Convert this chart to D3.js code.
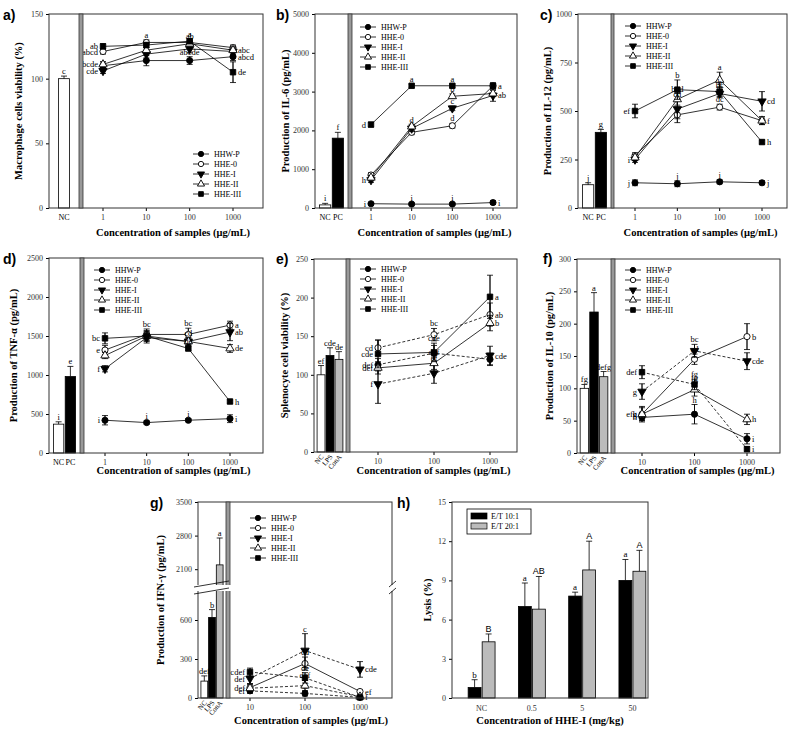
<!DOCTYPE html>
<html><head><meta charset="utf-8">
<script src="https://cdn.jsdelivr.net/npm/d3@7"></script>
<style>body{margin:0;background:#fff}svg{font-family:"Liberation Serif",serif}</style>
</head><body><svg id="fig" width="800" height="739"></svg>
<script>
// ---- data ----
var seriesNames = ["HHW-P","HHE-0","HHE-I","HHE-II","HHE-III"];
var conc4 = ["1","10","100","1000"];
var conc3 = ["10","100","1000"];

var aBarCats = ["NC"], aBarVals = [100], aBarErr = [2], aBarLet = ["c"];
var aVals = [[110,114,114,117],[121,128,128,124],[106,119,123,121],[111,122,127,122],[125,126,129,105]];
var aErr  = [[3,4,3,3],[2,2,2,2],[2,3,3,3],[2,2,2,3],[2,2,2,8]];
var aLet  = [["","","abcde","abcd"],["abcd","a","",""],["cde","","",""],["bcde","","ab","abc"],["ab","","a","de"]];

var bBarCats = ["NC","PC"], bBarVals = [80,1800], bBarErr = [40,150], bBarLet = ["i","f"];
var bVals = [[110,100,100,140],[850,1950,2120,3150],[720,2050,2570,2900],[780,2100,2880,2950],[2150,3150,3150,3150]];
var bErr  = [[30,30,30,50],[60,60,60,80],[60,80,60,150],[60,60,60,80],[60,40,40,50]];
var bLet  = [["i","i","i","i"],["","c","d",""],["h","d","c","ab"],["","","b",""],["d","a","a","a"]];

var cBarCats = ["NC","PC"], cBarVals = [120,390], cBarErr = [10,15], cBarLet = ["j","g"];
var cVals = [[130,125,135,130],[270,480,520,450],[250,510,590,550],[260,560,660,450],[500,610,600,340]];
var cErr  = [[15,15,10,10],[15,40,15,20],[15,50,20,50],[15,30,40,20],[35,50,25,10]];
var cLet  = [["j","j","j","j"],["","","dc","f"],["i","cd","bc","cd"],["","bcd","a",""],["ef","b","b","h"]];

var dBarCats = ["NC","PC"], dBarVals = [370,980], dBarErr = [30,130], dBarLet = ["i","e"];
var dVals = [[420,390,420,440],[1320,1520,1520,1640],[1080,1480,1430,1550],[1250,1500,1430,1340],[1470,1500,1340,660]];
var dErr  = [[60,20,20,50],[60,70,80,50],[40,70,50,110],[40,60,40,50],[70,70,30,20]];
var dLet  = [["i","i","i","i"],["e","bc","bc","a"],["f","","","ab"],["","","cd","de"],["bc","","de","h"]];

var eBarCats = ["NC","LPS","ConA"], eBarVals = [100,125,120], eBarErr = [12,10,10], eBarLet = ["ef","cde","de"];
var eVals = [[113,128,120],[135,152,178],[88,102,125],[109,115,167],[127,129,201]];
var eErr  = [[8,10,8],[10,8,15],[25,13,12],[8,8,10],[18,12,28]];
var eLet  = [["def","",""],["cd","bc","ab"],["f","ef","cde"],["def","def","b"],["cde","cde","a"]];

var fBarCats = ["NC","LPS","ConA"], fBarVals = [100,218,118], fBarErr = [6,30,8], fBarLet = ["fg","a","defg"];
var fVals = [[55,60,22],[60,145,180],[95,158,142],[60,98,52],[125,106,6]];
var fErr  = [[5,15,8],[10,8,20],[12,10,13],[12,10,8],[10,8,4]];
var fLet  = [["h","h","i"],["h","cd","b"],["g","bc","cde"],["efg","fg","h"],["def","fg","i"]];

var gBarCats = ["NC","LPS","ConA"], gBarVals = [130,620,2190], gBarErr = [40,60,560], gBarLet = ["def","b","a"];
var gVals = [[55,35,5],[80,265,50],[150,365,220],[75,95,10],[200,155,5]];
var gErr  = [[20,20,5],[30,50,10],[40,130,60],[30,40,10],[30,40,5]];
var gLet  = [["ef","ef","f"],["def","cd","ef"],["def","c","cde"],["","def",""],["cdef","de",""]];

var hCats = ["NC","0.5","5","50"];
var hSeries = ["E/T 10:1","E/T 20:1"];
var hVals = [[0.8,7.0,7.8,9.0],[4.3,6.8,9.8,9.7]];
var hErr  = [[0.6,1.8,0.3,1.6],[0.6,2.5,2.2,1.6]];
var hLet  = [["b","a","a","a"],["B","AB","A","A"]];

// ---- drawing ----
var svg = d3.select("#fig");
var barFill = {NC:"#fff",PC:"#000",LPS:"#000",ConA:"#bbb"};
var xTitle = "Concentration of samples (\u03bcg/mL)";

var drawSymbol = function(g,i,x,y,size)
{
    var types = [d3.symbolCircle,d3.symbolCircle,d3.symbolTriangle,d3.symbolTriangle,d3.symbolSquare];
    var fills = ["#000","#fff","#000","#fff","#000"];
    g.append("path")
        .attr("d",d3.symbol().type(types[i]).size(size || 30)())
        .attr("transform","translate("+x+","+y+")"+(i==2?" rotate(180)":""))
        .attr("fill",fills[i]).attr("stroke","#000").attr("stroke-width",0.9);
}

var errBar = function(g,x,ya,yb,w)
{
    g.append("line").attr("x1",x).attr("x2",x).attr("y1",ya).attr("y2",yb).attr("stroke","#000").attr("stroke-width",0.8);
    g.append("line").attr("x1",x-w).attr("x2",x+w).attr("y1",yb).attr("y2",yb).attr("stroke","#000").attr("stroke-width",0.8);
}

var label = function(g,x,y,t,size,anchor)
{
    return g.append("text").attr("x",x).attr("y",y).attr("text-anchor",anchor||"middle")
        .attr("font-size",size).attr("fill","#000").text(t);
}

var drawPanel = function(p)
{
    var g = svg.append("g");
    var y = d3.scaleLinear().domain(p.yDomain).range(p.yRange);
    var yAxis = d3.axisLeft(y).tickValues(p.yTicks).tickSize(3).tickFormat(d3.format("d"));
    var ax = g.append("g").attr("transform","translate("+p.x0+",0)").call(yAxis);
    ax.select(".domain").remove();
    ax.selectAll("text").attr("font-size",8).attr("fill","#333").attr("font-family","Liberation Serif");

    // bars on the left box
    var xb = d3.scaleBand().domain(p.barCats).range([p.x0+p.bp, p.xd-p.bp]).padding(0.12);
    p.barCats.forEach(function(c,i){
        var v = p.barVals[i];
        g.append("rect").attr("x",xb(c)).attr("width",xb.bandwidth())
            .attr("y",y(v)).attr("height",p.y1-y(v))
            .attr("fill",barFill[c]).attr("stroke","#000").attr("stroke-width",0.8);
        errBar(g,xb(c)+xb.bandwidth()/2,y(v),y(v+p.barErr[i]),3);
        label(g,xb(c)+xb.bandwidth()/2,y(v+p.barErr[i])-2,p.barLet[i],8.5);
        var lx = xb(c)+xb.bandwidth()/2;
        if (p.rotLabels) {
            g.append("text").attr("transform","translate("+(lx+3)+","+(p.y1+5)+") rotate(-50)")
                .attr("text-anchor","end").attr("font-size",7).attr("fill","#000").text(c);
        } else {
            label(g,lx,p.y1+12,c,8);
        }
    });

    // series on main box
    var xs = d3.scalePoint().domain(p.conc).range(p.pts);
    p.conc.forEach(function(c){
        label(g,xs(c),p.y1+12,c,8).attr("fill","#333");
        g.append("line").attr("x1",xs(c)).attr("x2",xs(c)).attr("y1",p.y1).attr("y2",p.y1+3).attr("stroke","#000");
    });
    var line = d3.line().x(function(d,i){return xs(p.conc[i]);}).y(function(d){return y(d);});
    p.vals.forEach(function(vs,s){
        g.append("path").attr("d",line(vs)).attr("fill","none").attr("stroke","#000").attr("stroke-width",0.8)
            .attr("stroke-dasharray",p.dash && p.dash[s] ? "3,2" : null);
    });
    p.vals.forEach(function(vs,s){
        vs.forEach(function(v,i){
            var cx = xs(p.conc[i]);
            var e = p.err[s][i];
            errBar(g,cx,y(v-e),y(v+e),3);
            errBar(g,cx,y(v+e),y(v-e),3);
            drawSymbol(g,s,cx,y(v));
            var t = p.lets[s][i];
            if (!t) return;
            var last = i==vs.length-1, first = i==0;
            label(g, first ? cx-5 : last ? cx+5 : cx,
                  first||last ? y(v)+3 : y(v+e)-2, t, 8.5,
                  first ? "end" : last ? "start" : "middle");
        });
    });

    // frames
    g.append("rect").attr("x",p.x0).attr("y",p.y0).attr("width",p.x1-p.x0).attr("height",p.y1-p.y0)
        .attr("fill","none").attr("stroke","#333").attr("stroke-width",1);
    g.append("rect").attr("x",p.xd).attr("y",p.y0).attr("width",p.xm-p.xd).attr("height",p.y1-p.y0)
        .attr("fill","#999").attr("stroke","#333").attr("stroke-width",0.8);

    // legend
    seriesNames.forEach(function(n,s){
        var ly = p.leg[1]+s*10;
        g.append("line").attr("x1",p.leg[0]).attr("x2",p.leg[0]+16).attr("y1",ly).attr("y2",ly).attr("stroke","#000").attr("stroke-width",0.8);
        drawSymbol(g,s,p.leg[0]+8,ly,22);
        label(g,p.leg[0]+21,ly+3,n,8,"start");
    });

    // titles
    g.append("text").attr("transform","translate("+p.yl+","+((p.y0+p.y1)/2)+") rotate(-90)")
        .attr("text-anchor","middle").attr("font-weight","bold").attr("font-size",10.5).text(p.yTitle);
    label(g,(p.xm+p.x1)/2,p.xl,xTitle,10.5).attr("font-weight","bold");
    label(g,p.tag[0],p.tag[1],p.name,14,"start").attr("font-family","Liberation Sans").attr("font-weight","bold");
    return g;
}

var panels = [
 {name:"a)",tag:[3,20],x0:49,xd:79,xm:83,x1:263,y0:14,y1:208,pts:[103,233],yDomain:[0,150],yRange:[208,14],yTicks:[0,50,100,150],
  yTitle:"Macrophage cells viability (%)",yl:22,xl:236,leg:[193,154],bp:8,
  barCats:aBarCats,barVals:aBarVals,barErr:aBarErr,barLet:aBarLet,conc:conc4,vals:aVals,err:aErr,lets:aLet},
 {name:"b)",tag:[276,20],x0:315,xd:348,xm:352,x1:517,y0:14,y1:208,pts:[371,493],yDomain:[0,5000],yRange:[208,14],yTicks:[0,1000,2000,3000,4000,5000],
  yTitle:"Production of IL-6 (pg/mL)",yl:289,xl:236,leg:[360,27],bp:3,
  barCats:bBarCats,barVals:bBarVals,barErr:bBarErr,barLet:bBarLet,conc:conc4,vals:bVals,err:bErr,lets:bLet},
 {name:"c)",tag:[540,20],x0:578,xd:611,xm:614,x1:787,y0:14,y1:208,pts:[635,762],yDomain:[0,1000],yRange:[208,14],yTicks:[0,250,500,750,1000],
  yTitle:"Production of IL-12 (pg/mL)",yl:551,xl:236,leg:[625,26],bp:3,
  barCats:cBarCats,barVals:cBarVals,barErr:cBarErr,barLet:cBarLet,conc:conc4,vals:cVals,err:cErr,lets:cLet},
 {name:"d)",tag:[3,264],x0:49,xd:80,xm:84,x1:263,y0:258,y1:453,pts:[105,230],yDomain:[0,2500],yRange:[453,258],yTicks:[0,500,1000,1500,2000,2500],
  yTitle:"Production of TNF-\u03b1 (pg/mL)",yl:17,xl:474,leg:[94,270],bp:3,
  barCats:dBarCats,barVals:dBarVals,barErr:dBarErr,barLet:dBarLet,conc:conc4,vals:dVals,err:dErr,lets:dLet},
 {name:"e)",tag:[276,264],x0:314,xd:346,xm:350,x1:517,y0:259,y1:452,pts:[378,490],yDomain:[0,250],yRange:[452,259],yTicks:[0,50,100,150,200,250],
  yTitle:"Splenocyte cell viability (%)",yl:288,xl:474,leg:[360,269],bp:2,rotLabels:true,dash:[1,1,1,0,0],
  barCats:eBarCats,barVals:eBarVals,barErr:eBarErr,barLet:eBarLet,conc:conc3,vals:eVals,err:eErr,lets:eLet},
 {name:"f)",tag:[543,264],x0:577,xd:611,xm:615,x1:780,y0:259,y1:453,pts:[642,747],yDomain:[0,300],yRange:[453,259],yTicks:[0,50,100,150,200,250,300],
  yTitle:"Production of IL-10 (pg/mL)",yl:553,xl:474,leg:[625,270],bp:2,rotLabels:true,dash:[0,0,1,0,1],
  barCats:fBarCats,barVals:fBarVals,barErr:fBarErr,barLet:fBarLet,conc:conc3,vals:fVals,err:fErr,lets:fLet}
];
panels.forEach(drawPanel);

// g) with broken y axis: piecewise scale
var gp = {name:"g)",tag:[150,508],x0:198,xd:226,xm:230,x1:392,y0:502,y1:698,pts:[250,360],yDomain:[0,700,2000,3500],yRange:[698,607,574,502],
  yTicks:[0,300,600,2100,2800,3500],yTitle:"Production of IFN-\u03b3 (pg/mL)",yl:164,xl:724,leg:[250,518],bp:2,rotLabels:true,dash:[1,0,1,1,1],
  barCats:gBarCats,barVals:gBarVals,barErr:gBarErr,barLet:gBarLet,conc:conc3,vals:gVals,err:gErr,lets:gLet};
var gg = drawPanel(gp);
[[gp.x0-4,gp.xd+3],[gp.x1-3,gp.x1+4]].forEach(function(r){
    gg.append("rect").attr("x",r[0]).attr("y",585).attr("width",r[1]-r[0]).attr("height",6).attr("fill","#fff");
    [584,591].forEach(function(yy){
        gg.append("line").attr("x1",r[0]).attr("x2",r[1]).attr("y1",yy+3).attr("y2",yy-3).attr("stroke","#000").attr("stroke-width",0.8);
    });
});
gg.append("rect").attr("x",gp.xd+3).attr("y",585).attr("width",gp.xm-gp.xd-2).attr("height",6).attr("fill","#fff");

// h) grouped bars
var hL = 452, hR = 648;
var h = svg.append("g");
var hx = d3.scaleBand().domain(hCats).range([462,652]).paddingInner(0.42).paddingOuter(0.1);
var hsub = d3.scaleBand().domain([0,1]).range([0,hx.bandwidth()]).padding(0.08);
var hy = d3.scaleLinear().domain([0,15]).range([698,502]);
var hax = h.append("g").attr("transform","translate("+hL+",0)").call(d3.axisLeft(hy).tickValues([0,3,6,9,12,15]).tickSize(3));
hax.select(".domain").remove();
hax.selectAll("text").attr("font-size",8).attr("fill","#333").attr("font-family","Liberation Serif");
var hFill = ["#000","#bbb"];
hVals.forEach(function(vs,s){
    vs.forEach(function(v,i){
        var bx = hx(hCats[i])+hsub(s), bw = hsub.bandwidth();
        h.append("rect").attr("x",bx).attr("width",bw).attr("y",hy(v)).attr("height",698-hy(v))
            .attr("fill",hFill[s]).attr("stroke","#000").attr("stroke-width",0.8);
        errBar(h,bx+bw/2,hy(v),hy(v+hErr[s][i]),3);
        label(h,bx+bw/2,hy(v+hErr[s][i])-2,hLet[s][i],9).attr("font-family",s?"Liberation Sans":"Liberation Serif");
    });
});
hCats.forEach(function(c){
    label(h,hx(c)+hx.bandwidth()/2,711,c,8).attr("fill","#333");
});
h.append("rect").attr("x",hL).attr("y",502).attr("width",hR-hL).attr("height",196).attr("fill","none").attr("stroke","#333");
h.append("rect").attr("x",467).attr("y",509).attr("width",64).attr("height",25).attr("fill","#fff").attr("stroke","#000").attr("stroke-width",0.8);
hSeries.forEach(function(n,s){
    h.append("rect").attr("x",471).attr("y",513+s*10).attr("width",16).attr("height",6).attr("fill",hFill[s]).attr("stroke","#000").attr("stroke-width",0.7);
    label(h,491,519+s*10,n,8,"start");
});
h.append("text").attr("transform","translate(431,600) rotate(-90)").attr("text-anchor","middle").attr("font-weight","bold").attr("font-size",10.5).text("Lysis (%)");
label(h,550,724,"Concentration of HHE-I (mg/kg)",10.5).attr("font-weight","bold");
label(h,397,508,"h)",14,"start").attr("font-family","Liberation Sans").attr("font-weight","bold");
</script></body></html>
